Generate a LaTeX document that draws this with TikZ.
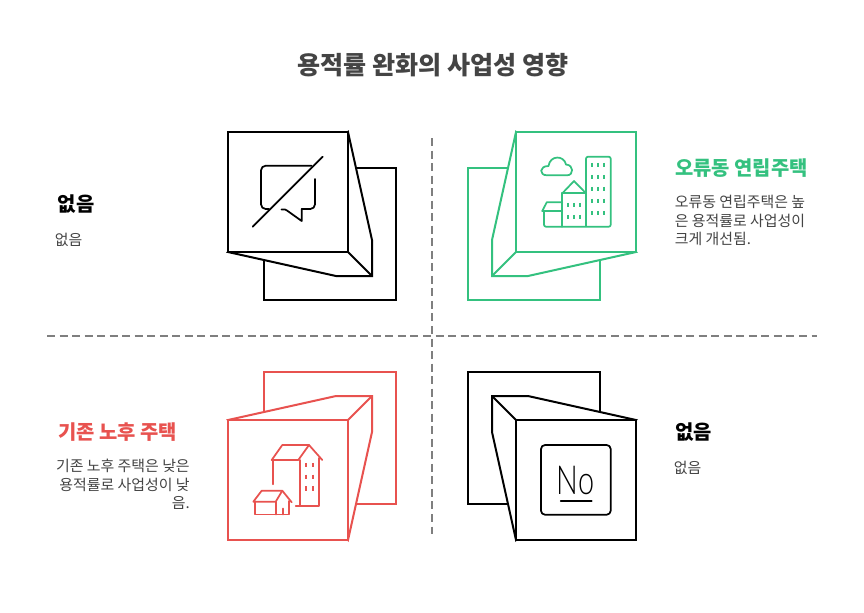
\documentclass[tikz,border=0pt]{standalone}
\usepackage{fontspec}
\setmainfont{Noto Sans CJK KR}
\newfontfamily\nofont[UprightFont={* Light}]{Lato}
\definecolor{grn}{HTML}{34C17F}
\definecolor{rd}{HTML}{E8524F}
\definecolor{ink}{HTML}{444444}
\definecolor{dashc}{HTML}{7F7F7F}
\tikzset{
  panel/.style={line width=1.5pt,line join=miter,fill=white},
  icon/.style={line width=1.3pt,line cap=round,line join=round},
  win/.style={line width=1.4pt},
  divider/.style={dashc,line width=1.5pt,dash pattern=on 6pt off 3.4pt},
  maintitle/.style={font=\fontsize{18.8}{22}\selectfont\bfseries,text=ink,inner sep=0pt},
  head/.style={font=\fontsize{14.9}{18}\selectfont\bfseries,inner sep=0pt},
  body/.style={font=\fontsize{11.2}{13.9}\selectfont,text=ink,inner sep=0pt}
}
\begin{document}
\begin{tikzpicture}[x=0.75pt,y=-0.75pt]
\useasboundingbox (0,0) rectangle (864,612);
\fill[white] (0,0) rectangle (864,612);
\node[maintitle] (title) at (432.7,65.5) {용적률 완화의 사업성 영향};
\draw[divider] (47,336) -- (817,336);
\draw[divider] (432,138) -- (432,534);

% top left panel
\begin{scope}[black]
\draw[panel] (264,168) rectangle (396,300);
\draw[panel] (348,132) -- (372,240) -- (372,276) -- (336,276) -- (228,252) -- cycle;
\draw[panel] (228,132) rectangle (348,252);
\draw[panel] (348,252) -- (372,276);
\begin{scope}[icon]
\draw[rounded corners=3.5pt] (311.5,165.7) -- (261,165.7) -- (261,209) -- (269,209);
\draw[rounded corners=3.5pt] (315,179) -- (315,209) -- (301.7,209);
\draw (303,209) -- (301.7,209) -- (301.7,221) -- (287,210.5) -- (285,209.5) -- (281.5,209.5);
\draw (252.7,226.7) -- (322.7,156.7);
\end{scope}
\end{scope}

% top right panel
\begin{scope}[grn]
\draw[panel] (468,168) rectangle (600,300);
\draw[panel] (516,132) -- (492,240) -- (492,276) -- (528,276) -- (636,252) -- cycle;
\draw[panel] (516,132) rectangle (636,252);
\draw[panel] (516,252) -- (492,276);
\begin{scope}[icon]
\draw[rounded corners=1.5pt] (586,226.7) -- (586,156.7) -- (610.7,156.7) -- (610.7,226.7) -- (544,226.7) -- (544,211);
\draw (562.3,226.7) -- (562.3,193.3) -- (586,193.3);
\draw (562.3,193.3) -- (574,181) -- (586,193.3);
\draw (542.3,211) -- (562.3,211);
\draw (542.3,211) -- (546.7,202.3) -- (562.3,202.3);
\draw (547,175.3) -- (567,175.3) .. controls (574,175.3) and (574,165) .. (566,164.5) .. controls (564,155) and (550,155) .. (548.5,166) .. controls (539,166) and (539,175.3) .. (547,175.3);
\end{scope}
\foreach \x in {592.3,598.3,604.3}\foreach \y in {165,177,189,201,213}
  \draw[win] (\x,\y-2.2) -- (\x,\y+2.2);
\foreach \x in {568.3,574.3,580.3}\foreach \y in {205,217}
  \draw[win] (\x,\y-2.2) -- (\x,\y+2.2);
\end{scope}

% bottom left panel
\begin{scope}[rd]
\draw[panel] (264,372) rectangle (396,504);
\draw[panel] (228,420) -- (336,396) -- (372,396) -- (372,432) -- (348,540) -- cycle;
\draw[panel] (228,420) rectangle (348,540);
\draw[panel] (348,420) -- (372,396);
\begin{scope}[icon]
\draw (273.3,484.3) -- (273.3,460);
\draw (271.7,460) -- (298.3,460) -- (309,445) -- (282.3,445) -- cycle;
\draw (309,445) -- (322.3,460);
\draw (300,460) -- (300,505.7);
\draw (319,458) -- (319,505.7) -- (295.7,505.7);
\draw (253.3,501.7) -- (275.7,501.7) -- (282.3,490.7) -- (261.7,490.7) -- cycle;
\draw (282.3,490.7) -- (291.7,502.3);
\draw (255,501.7) -- (255,514.5) -- (289,514.5) -- (289,501);
\draw (275.7,501.7) -- (275.7,514.5);
\draw (282.7,508.5) -- (282.7,514.5);
\end{scope}
\foreach \x in {306,312.7}\foreach \y in {465,476.7,488.3}
  \draw[win] (\x,\y-2.2) -- (\x,\y+2.2);
\end{scope}

% bottom right panel
\begin{scope}[black]
\draw[panel] (468,372) rectangle (600,504);
\draw[panel] (636,420) -- (528,396) -- (492,396) -- (492,432) -- (516,540) -- cycle;
\draw[panel] (516,420) rectangle (636,540);
\draw[panel] (516,420) -- (492,396);
\draw[icon,rounded corners=3pt] (541,445) rectangle (610.7,514.7);
\node[inner sep=0pt,anchor=base,xscale=0.72,font=\fontsize{30}{30}\selectfont\nofont] (nolabel) at (575.5,494.3) {No};
\draw[icon] (560.7,500.7) -- (591.7,500.7);
\end{scope}

% texts
\node[head,anchor=west] (h1) at (57.7,204) {없음};
\node[body,anchor=west] (b1) at (54.5,240) {없음};
\node[head,anchor=west,text=grn] (h2) at (675,167.7) {오류동 연립주택};
\node[body,anchor=north west,align=left] (b2) at (674.5,195.3) {오류동 연립주택은 높\\은 용적률로 사업성이\\크게 개선됨.};
\node[head,anchor=west,text=rd] (h3) at (58,431.7) {기존 노후 주택};
\node[body,anchor=north east,align=right] (b3) at (190,459.2) {기존 노후 주택은 낮은\\용적률로 사업성이 낮\\음.};
\node[head,anchor=west] (h4) at (675,431.7) {없음};
\node[body,anchor=west] (b4) at (673.5,467.5) {없음};
\end{tikzpicture}
\end{document}
